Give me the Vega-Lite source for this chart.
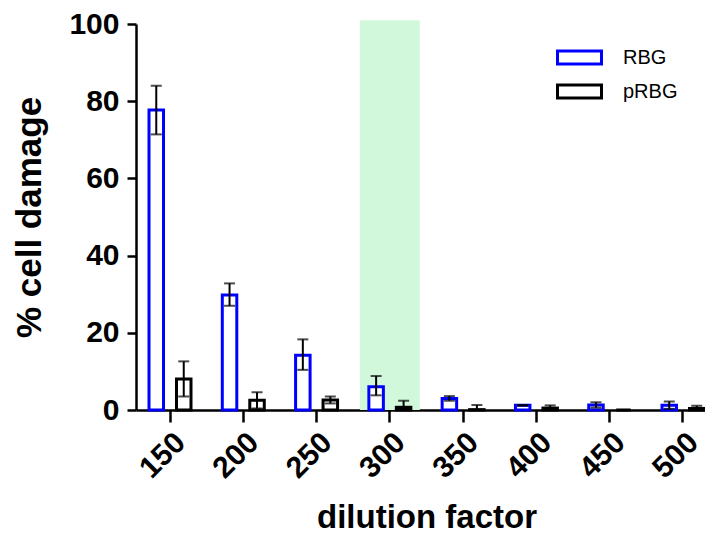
{
  "$schema": "https://vega.github.io/schema/vega-lite/v6.json",
  "autosize": "none",
  "width": 569,
  "height": 386,
  "padding": {"left": 136, "top": 24, "right": 0, "bottom": 126},
  "background": "white",
  "config": {
    "view": {"stroke": null},
    "font": "Liberation Sans",
    "axis": {
      "domainColor": "black", "domainWidth": 2.5, "tickColor": "black", "tickWidth": 2.5,
      "labelColor": "black", "labelFont": "Liberation Sans", "labelFontWeight": "bold", "labelFontSize": 30,
      "titleColor": "black", "titleFont": "Liberation Sans", "titleFontWeight": "bold", "titleFontSize": 33,
      "grid": false
    }
  },
  "datasets": {
    "bars": [
      {"dilution": "150", "group": "RBG", "mean": 77.7, "lo": 71.4, "hi": 84.0},
      {"dilution": "150", "group": "pRBG", "mean": 8.0, "lo": 3.5, "hi": 12.6},
      {"dilution": "200", "group": "RBG", "mean": 29.8, "lo": 27.0, "hi": 32.8},
      {"dilution": "200", "group": "pRBG", "mean": 2.5, "lo": 0.4, "hi": 4.6},
      {"dilution": "250", "group": "RBG", "mean": 14.2, "lo": 10.4, "hi": 18.3},
      {"dilution": "250", "group": "pRBG", "mean": 2.6, "lo": 1.7, "hi": 3.5},
      {"dilution": "300", "group": "RBG", "mean": 6.0, "lo": 3.8, "hi": 8.8},
      {"dilution": "300", "group": "pRBG", "mean": 0.7, "lo": 0.0, "hi": 2.4},
      {"dilution": "350", "group": "RBG", "mean": 3.0, "lo": 2.4, "hi": 3.6},
      {"dilution": "350", "group": "pRBG", "mean": 0.1, "lo": 0.0, "hi": 1.3},
      {"dilution": "400", "group": "RBG", "mean": 1.2, "lo": 1.1, "hi": 1.3},
      {"dilution": "400", "group": "pRBG", "mean": 0.5, "lo": 0.0, "hi": 1.2},
      {"dilution": "450", "group": "RBG", "mean": 1.3, "lo": 0.6, "hi": 2.0},
      {"dilution": "450", "group": "pRBG", "mean": 0.0, "lo": 0.0, "hi": 0.0},
      {"dilution": "500", "group": "RBG", "mean": 1.2, "lo": 0.3, "hi": 2.2},
      {"dilution": "500", "group": "pRBG", "mean": 0.4, "lo": 0.0, "hi": 1.1}
    ],
    "shade": [
      {"dilution": "300", "top": 101}
    ]
  },
  "encoding": {
    "x": {
      "field": "dilution", "type": "nominal",
      "sort": ["150", "200", "250", "300", "350", "400", "450", "500"],
      "scale": {"domain": ["150", "200", "250", "300", "350", "400", "450", "500"], "range": [0, 581], "paddingInner": 0.25, "paddingOuter": 0.089},
      "axis": {"title": "dilution factor", "labelAngle": -45, "tickSize": 12, "labelPadding": 5, "titleY": 117, "titleBaseline": "alphabetic", "titleAlign": "center"}
    }
  },
  "layer": [
    {
      "data": {"name": "shade"},
      "mark": {"type": "bar", "color": "#d2f8dc", "width": {"band": 1.09}},
      "encoding": {
        "y": {"field": "top", "type": "quantitative", "scale": {"domain": [0, 100], "nice": false},
          "axis": {"title": "% cell damage", "values": [0, 20, 40, 60, 80, 100], "tickSize": 9, "labelPadding": 8, "titleX": -107, "titleY": 193, "titleBaseline": "middle", "titleAlign": "center", "titleAngle": -90, "titleFontSize": 35}}
      }
    },
    {
      "data": {"name": "bars"},
      "mark": {"type": "bar", "fill": "white", "strokeWidth": 3, "width": 14.5},
      "encoding": {
        "xOffset": {"field": "group", "type": "nominal", "sort": ["RBG", "pRBG"], "scale": {"paddingInner": 0, "paddingOuter": 0}},
        "y": {"field": "mean", "type": "quantitative"},
        "stroke": {"field": "group", "type": "nominal", "sort": ["RBG", "pRBG"],
          "scale": {"domain": ["RBG", "pRBG"], "range": ["#0000ff", "#000000"]},
          "legend": {"title": null, "orient": "none", "legendX": 431, "legendY": 21, "padding": 0,
            "symbolType": "M-2,-0.6H2V0.6H-2Z", "symbolSize": 484, "symbolStrokeWidth": 3, "symbolFillColor": "white",
            "labelFont": "Liberation Sans", "labelFontSize": 20, "labelColor": "black", "rowPadding": 7, "labelOffset": 31}
        }
      }
    },
    {
      "data": {"name": "bars"},
      "mark": {"type": "rule", "color": "black", "strokeWidth": 2},
      "encoding": {
        "xOffset": {"field": "group", "type": "nominal", "sort": ["RBG", "pRBG"]},
        "y": {"field": "lo", "type": "quantitative"},
        "y2": {"field": "hi"}
      }
    },
    {
      "data": {"name": "bars"},
      "mark": {"type": "tick", "color": "black", "thickness": 2, "size": 11},
      "encoding": {
        "xOffset": {"field": "group", "type": "nominal", "sort": ["RBG", "pRBG"]},
        "y": {"field": "hi", "type": "quantitative"}
      }
    },
    {
      "data": {"name": "bars"},
      "mark": {"type": "tick", "color": "black", "thickness": 2, "size": 11},
      "encoding": {
        "xOffset": {"field": "group", "type": "nominal", "sort": ["RBG", "pRBG"]},
        "y": {"field": "lo", "type": "quantitative"}
      }
    }
  ]
}
